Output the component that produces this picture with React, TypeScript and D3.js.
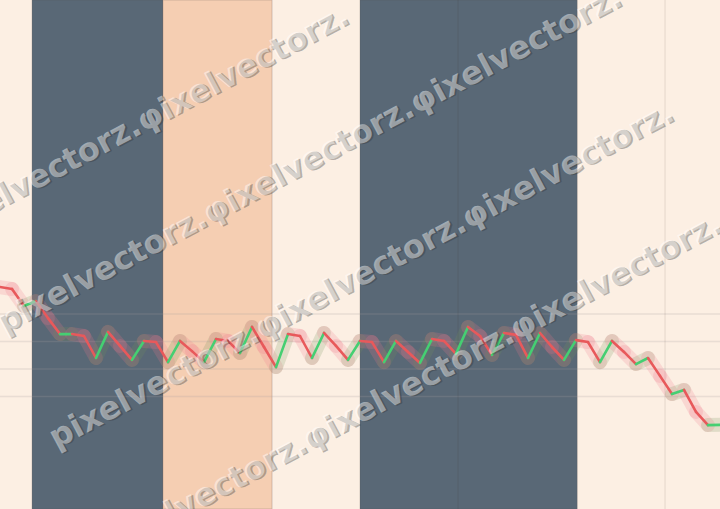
import React from "react";
import * as d3 from "d3";

const W = 720;
const H = 509;

// series values (index 0..60)
const values: number[] = [
  129.8, 129.1, 122.9, 124.7, 118.5, 112.7, 112.7, 112.0, 104.0, 113.5,
  108.4, 103.3, 110.2, 109.8, 102.5, 110.2, 106.5, 102.5, 110.9, 110.2,
  105.8, 115.3, 108.0, 100.7, 112.7, 112.0, 104.0, 113.1, 108.4, 103.3,
  110.2, 109.8, 102.5, 110.2, 106.2, 102.2, 110.9, 110.2, 105.5, 115.3,
  112.0, 105.1, 113.1, 112.4, 104.0, 113.1, 108.0, 103.3, 110.5, 109.8,
  102.5, 110.2, 106.2, 101.8, 104.0, 97.5, 90.9, 92.4, 84.4, 79.6, 79.7,
];

// background bands in index units
const bandStarts: number[] = [2.67, 13.58, 30];
const bandEnds: number[] = [13.58, 22.67, 48.1];
const bandKinds: string[] = ["dark", "peach", "dark"];

const yTicks: number[] = [120, 110, 100, 90];
const xGrid: number[] = [38.17, 55.42];

const watermarkText = "pixelvectorz.φixelvectorz.φixelvectorz.";
const wmX: number[] = [-273, 0, 52, 100];
const wmY: number[] = [344, 326, 441, 552];

const COLORS = {
  bg: "#fcefe3",
  dark: "#596876",
  peach: "#f5ceb2",
  up: "#45cf72",
  down: "#e8595b",
  upGlow: "rgba(117,143,88,0.2)",
  downGlow: "rgba(242,120,140,0.2)",
};

export default function App() {
  const x = d3.scaleLinear().domain([0, 60]).range([0, 720]);
  const y = d3.scaleLinear().domain([120, 90]).range([314, 396.5]);

  const segs = values.slice(0, -1).map((v, i) => ({
    x1: x(i),
    y1: y(v),
    x2: x(i + 1),
    y2: y(values[i + 1]),
    up: values[i + 1] >= v,
  }));

  return (
    <svg
      width={W}
      height={H}
      style={{ position: "absolute", left: 0, top: 0, display: "block" }}
    >
      <rect x={0} y={0} width={W} height={H} fill={COLORS.bg} />
      {bandStarts.map((s, i) => (
        <rect
          key={"b" + i}
          x={x(s)}
          y={0}
          width={x(bandEnds[i]) - x(s)}
          height={H}
          fill={bandKinds[i] === "dark" ? COLORS.dark : COLORS.peach}
          stroke="rgba(90,80,80,0.25)"
          strokeWidth={1}
        />
      ))}
      {yTicks.map((t) => (
        <line
          key={"h" + t}
          x1={0}
          x2={W}
          y1={y(t)}
          y2={y(t)}
          stroke="rgba(170,160,160,0.22)"
          strokeWidth={1.5}
        />
      ))}
      {xGrid.map((g) => (
        <line
          key={"v" + g}
          x1={x(g)}
          x2={x(g)}
          y1={0}
          y2={H}
          stroke="rgba(60,40,30,0.12)"
          strokeWidth={1}
        />
      ))}
      <g>
        {segs.map((s, i) => (
          <line
            key={"g" + i}
            x1={s.x1}
            y1={s.y1}
            x2={s.x2}
            y2={s.y2}
            stroke={s.up ? COLORS.upGlow : COLORS.downGlow}
            strokeWidth={14}
            strokeLinecap="round"
          />
        ))}
        {segs.map((s, i) => (
          <line
            key={"l" + i}
            x1={s.x1}
            y1={s.y1}
            x2={s.x2}
            y2={s.y2}
            stroke={s.up ? COLORS.up : COLORS.down}
            strokeWidth={2.6}
            strokeLinecap="round"
          />
        ))}
      </g>
      <g
        fontFamily="DejaVu Sans"
        fontWeight="bold"
        fontSize={32}
        style={{ pointerEvents: "none" }}
      >
        {wmX.map((wx, i) => (
          <g key={"w" + i} transform={`translate(${wx},${wmY[i]}) rotate(-28)`}>
            <text x={1.5} y={1.5} fill="rgba(50,50,50,0.35)" dominantBaseline="middle">
              {watermarkText}
            </text>
            <text x={0} y={0} fill="rgba(255,255,255,0.45)" dominantBaseline="middle">
              {watermarkText}
            </text>
          </g>
        ))}
      </g>
    </svg>
  );
}
